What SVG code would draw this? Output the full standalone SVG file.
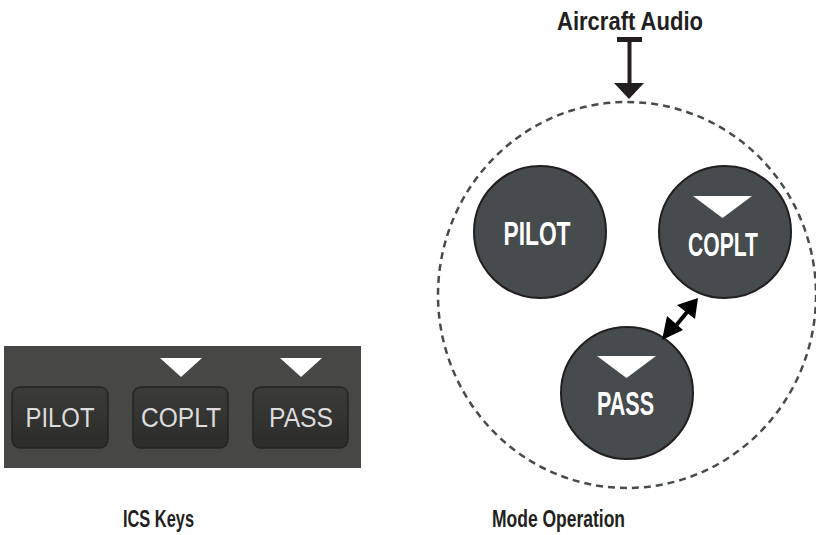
<svg xmlns="http://www.w3.org/2000/svg" width="816" height="535" viewBox="0 0 816 535">
<defs>
<style>
.lbl{font-family:"Liberation Sans",Arial,sans-serif;font-weight:bold;fill:#231f20}
.node circle{fill:#464b4d;stroke:#231f20;stroke-width:2}
.node text{font-family:"Liberation Sans",Arial,sans-serif;font-weight:bold;font-size:33px;fill:#ffffff;text-anchor:middle}
.tri{fill:#ffffff}
.key rect{fill:url(#kg);stroke:#252524;stroke-width:1.5}
.key text{font-family:"Liberation Sans",Arial,sans-serif;font-size:27px;fill:#dcdcdc;text-anchor:middle}
</style>
<linearGradient id="kg" x1="0" y1="0" x2="0" y2="1">
<stop offset="0" stop-color="#3b3b39"/>
<stop offset="1" stop-color="#2b2b2a"/>
</linearGradient>
</defs>

<g id="ics-keys">
<rect x="4" y="346" width="357" height="122" fill="#474745"/>
<g class="key" id="key-pilot">
<rect x="12" y="387" width="96" height="61" rx="8"/>
<text x="60" y="427" textLength="69" lengthAdjust="spacingAndGlyphs">PILOT</text>
</g>
<g class="key" id="key-coplt">
<rect x="133" y="387" width="95" height="61" rx="8"/>
<text x="181" y="427" textLength="80" lengthAdjust="spacingAndGlyphs">COPLT</text>
<polygon class="tri" points="160,358 202,358 181,377"/>
</g>
<g class="key" id="key-pass">
<rect x="253" y="387" width="95" height="61" rx="8"/>
<text x="301" y="427" textLength="64" lengthAdjust="spacingAndGlyphs">PASS</text>
<polygon class="tri" points="280,358 322,358 301,377"/>
</g>
</g>

<g id="mode-boundary">
<ellipse cx="627" cy="295" rx="189" ry="193" fill="none" stroke="#464b4d" stroke-width="2.5" stroke-dasharray="7,5"/>
</g>

<g id="node-pilot" class="node">
<circle cx="540" cy="232" r="66"/>
<text x="537" y="245" textLength="67" lengthAdjust="spacingAndGlyphs">PILOT</text>
</g>
<g id="node-coplt" class="node">
<circle cx="725" cy="232" r="66"/>
<polygon class="tri" points="693,196 752,196 722.5,218"/>
<text x="723" y="256" textLength="70" lengthAdjust="spacingAndGlyphs">COPLT</text>
</g>
<g id="node-pass" class="node">
<circle cx="627" cy="393" r="66"/>
<polygon class="tri" points="597,356 656,356 626.5,378"/>
<text x="625.5" y="415" textLength="57" lengthAdjust="spacingAndGlyphs">PASS</text>
</g>

<g id="connectors">
<rect x="617" y="37" width="25" height="5" fill="#231f20"/>
<rect x="627.5" y="40" width="4" height="44" fill="#231f20"/>
<polygon points="614,83 644,83 629,99" fill="#231f20"/>
<line x1="670" y1="333" x2="692" y2="306" stroke="#000" stroke-width="4"/>
<polygon points="662,340 667,316 683,330" fill="#000"/>
<polygon points="698,298 677,305 695,319" fill="#000"/>
</g>

<text class="lbl" x="557" y="30" font-size="26" textLength="146" lengthAdjust="spacingAndGlyphs">Aircraft Audio</text>
<text class="lbl" x="123" y="527" font-size="24" textLength="71" lengthAdjust="spacingAndGlyphs">ICS Keys</text>
<text class="lbl" x="492" y="527" font-size="24" textLength="133" lengthAdjust="spacingAndGlyphs">Mode Operation</text>
</svg>
